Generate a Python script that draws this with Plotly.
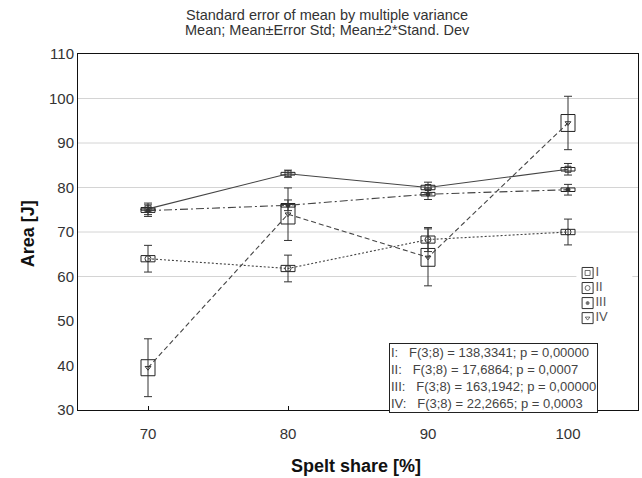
import plotly.graph_objects as go

# ---- data ----
spelt_share = [70, 80, 90, 100]
series_names = ["I", "II", "III", "IV"]
mean_I = [75.2, 83.1, 80.0, 84.1]
mean_II = [64.0, 61.8, 68.3, 70.0]
mean_III = [74.8, 76.0, 78.5, 79.5]
mean_IV = [39.5, 74.0, 64.3, 94.5]
se_I = [0.3, 0.3, 0.5, 0.4]
se_II = [0.7, 0.7, 0.8, 0.6]
se_III = [0.4, 0.4, 0.4, 0.4]
se_IV = [1.8, 2.2, 2.0, 1.9]
sd2_I = [1.3, 0.8, 1.2, 1.3]
sd2_II = [3.0, 3.0, 2.7, 2.9]
sd2_III = [1.3, 1.2, 1.2, 1.2]
sd2_IV = [6.5, 5.9, 6.4, 6.0]
stats_lines = [
    "I:   F(3;8) = 138,3341; p = 0,00000",
    "II:   F(3;8) = 17,6864; p = 0,0007",
    "III:   F(3;8) = 163,1942; p = 0,00000",
    "IV:   F(3;8) = 22,2665; p = 0,0003",
]
title_lines = [
    "Standard error of mean by multiple variance",
    "Mean; Mean±Error Std; Mean±2*Stand. Dev",
]
y_ticks = [30, 40, 50, 60, 70, 80, 90, 100, 110]
grid_values = [60, 70, 80, 90, 100]
x_ticks = [70, 80, 90, 100]

means = [mean_I, mean_II, mean_III, mean_IV]
ses = [se_I, se_II, se_III, se_IV]
sd2s = [sd2_I, sd2_II, sd2_III, sd2_IV]
dashes = ["solid", "2px,2px", "8px,3px,2px,3px", "5px,3px"]
symbols = ["square-open", "circle-open", "circle", "triangle-down-open"]
msizes = [6, 6, 4, 5]

INK = "#333333"
FONT = "Liberation Sans, Arial, sans-serif"

fig = go.Figure()

# SE boxes
for name, m, s in zip(series_names, means, ses):
    fig.add_trace(go.Bar(
        x=spelt_share, y=[2 * v for v in s], base=[a - b for a, b in zip(m, s)],
        width=1.0, marker=dict(color="rgba(0,0,0,0)", line=dict(color="#222222", width=1)),
        showlegend=False, hoverinfo="skip"))

# Means, lines and 2*SD whiskers
for name, m, d, dash, sym, ms in zip(series_names, means, sd2s, dashes, symbols, msizes):
    fig.add_trace(go.Scatter(
        x=spelt_share, y=m, mode="lines+markers", name=name,
        line=dict(color="#444444", width=1.1, dash=dash),
        marker=dict(symbol=sym, size=ms, color="#333333", line=dict(color="#333333", width=1)),
        error_y=dict(type="data", array=d, visible=True, color="#333333", thickness=1, width=4),
        showlegend=False))

# Custom legend (own axes)
idx = list(range(len(series_names)))
fig.add_trace(go.Scatter(
    x=[0.2] * len(series_names), y=idx, mode="markers+text",
    text=series_names, textposition="middle right",
    textfont=dict(family=FONT, size=13, color="#555555"),
    marker=dict(symbol="square-open", size=11, color="#333333", line=dict(width=1)),
    xaxis="x2", yaxis="y2", showlegend=False, hoverinfo="skip"))
fig.add_trace(go.Scatter(
    x=[0.2] * len(series_names), y=idx, mode="markers",
    marker=dict(symbol=symbols, size=[s - 1 for s in msizes], color="#333333", line=dict(width=1, color="#333333")),
    xaxis="x2", yaxis="y2", showlegend=False, hoverinfo="skip"))

for g in grid_values:
    fig.add_hline(y=g, line=dict(color="#d4d4d4", width=1), layer="below")

fig.update_layout(
    width=642, height=478, autosize=False,
    margin=dict(l=78, r=4, t=54, b=68),
    paper_bgcolor="white", plot_bgcolor="white",
    barmode="overlay",
    font=dict(family=FONT, color=INK),
    xaxis=dict(range=[65, 105], tickvals=x_ticks, showgrid=False, zeroline=False,
               showline=True, linecolor="#111111", linewidth=1, mirror=True,
               ticks="inside", ticklen=4, tickcolor="#111111", ticklabelstandoff=10,
               tickfont=dict(size=15, color=INK)),
    yaxis=dict(range=[30, 110], tickvals=y_ticks, showgrid=False, zeroline=False,
               showline=True, linecolor="#111111", linewidth=1, mirror=True,
               ticks="", tickfont=dict(size=15, color=INK)),
    xaxis2=dict(domain=[0.89, 0.99], range=[0, 1], visible=False, anchor="y2"),
    yaxis2=dict(domain=[0.237, 0.406], range=[3.5, -0.5], visible=False, anchor="x2"),
    showlegend=False,
)

# Title (two lines)
for i, t in enumerate(title_lines):
    fig.add_annotation(text=t, xref="paper", yref="paper",
                       x=0.445, y=(410 - (15 + 15 * i)) / 356, xanchor="center", yanchor="middle",
                       showarrow=False, font=dict(size=14.5, color=INK))

fig.add_annotation(text="<b>Spelt share [%]</b>", xref="paper", yref="paper",
                   x=0.496, y=-0.157, xanchor="center", yanchor="middle",
                   showarrow=False, font=dict(size=18, color="#111111"))
fig.add_annotation(text="<b>Area [J]</b>", xref="paper", yref="paper",
                   x=-0.089, y=0.494, xanchor="center", yanchor="middle", textangle=-90,
                   showarrow=False, font=dict(size=18, color="#111111"))
fig.add_annotation(text="<br>".join(stats_lines), xref="paper", yref="paper",
                   x=0.555, y=-0.008, xanchor="left", yanchor="bottom", align="left",
                   showarrow=False, bordercolor="#222222", borderwidth=1, borderpad=1,
                   bgcolor="white", font=dict(size=13, color="#444444"))

fig.write_html("out.html")
